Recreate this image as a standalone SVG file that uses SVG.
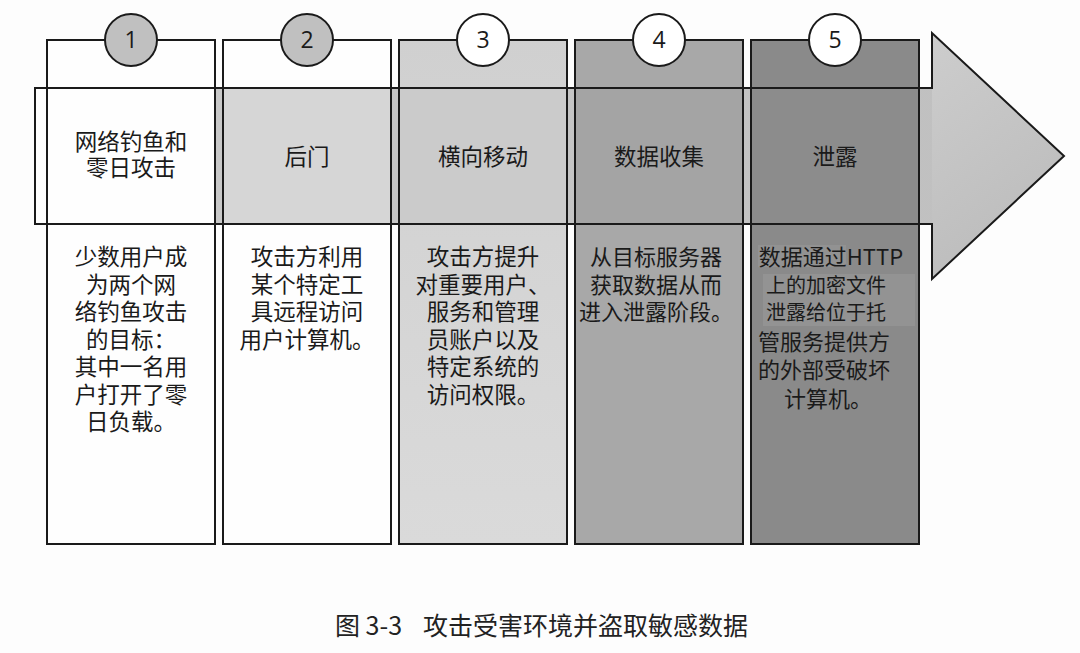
<svg xmlns="http://www.w3.org/2000/svg" width="1080" height="653" viewBox="0 0 1080 653">
<defs>
<linearGradient id="bandGrad" gradientUnits="userSpaceOnUse" x1="35" y1="0" x2="1064" y2="0">
<stop offset="0" stop-color="#ffffff"/>
<stop offset="0.012" stop-color="#fdfdfd"/>
<stop offset="0.17" stop-color="#c8c8c8"/>
<stop offset="1" stop-color="#bfbfbf"/>
</linearGradient>
<linearGradient id="headGrad" x1="0" y1="0" x2="0.4" y2="1">
<stop offset="0" stop-color="#cdcdcd"/>
<stop offset="1" stop-color="#bcbcbc"/>
</linearGradient>
<linearGradient id="c3Grad" x1="0" y1="0" x2="0" y2="1">
<stop offset="0" stop-color="#d0d0d0"/>
<stop offset="1" stop-color="#dadada"/>
</linearGradient>
<style>
.col{stroke:#1a1a1a;stroke-width:2}
.edge{fill:none;stroke:#1a1a1a;stroke-width:2}
.circ{stroke:#1a1a1a;stroke-width:2}
.num{font-family:"Open Sans","Liberation Sans",sans-serif;font-size:23px;fill:#1a1a1a;text-anchor:middle}
.t{font-family:"Noto Sans CJK SC","Noto Sans",sans-serif;fill:#1a1a1a;text-anchor:middle;font-size:22.5px}
.s{font-size:22px}
.xs{font-size:20px}
.cap{font-family:"Noto Sans CJK SC","Noto Sans",sans-serif;fill:#222;font-size:25px}
</style>
</defs>
<rect width="1080" height="653" fill="#fdfdfd"/>

<g id="flow-arrow">
<polygon points="35,88 932,88 932,33 1064,156 932,279 932,224 35,224" fill="url(#bandGrad)" stroke="none"/>
<polygon points="932,88 932,33 1064,156 932,279 932,224" fill="url(#headGrad)" stroke="none"/>
<polygon class="edge" points="35,88 932,88 932,33 1064,156 932,279 932,224 35,224"/>
</g>

<g id="step1">
<rect class="col" x="47" y="40" width="168" height="504" fill="#fefefe"/>
<rect x="48" y="89" width="166" height="134" fill="#fefefe"/>
<line class="edge" x1="47" y1="88" x2="215" y2="88"/>
<line class="edge" x1="47" y1="224" x2="215" y2="224"/>
<circle class="circ" cx="131" cy="40" r="26" fill="#c0c0c0"/>
<text class="num" x="131" y="48">1</text>
<text class="t" x="131" y="150">网络钓鱼和</text>
<text class="t" x="131" y="176">零日攻击</text>
<text class="t" x="131" y="265">少数用户成</text>
<text class="t" x="131" y="292.5">为两个网</text>
<text class="t" x="131" y="320">络钓鱼攻击</text>
<text class="t" x="131" y="347.5">的目标：</text>
<text class="t" x="131" y="375">其中一名用</text>
<text class="t" x="131" y="402.5">户打开了零</text>
<text class="t" x="131" y="430">日负载。</text>
</g>

<g id="step2">
<rect class="col" x="223" y="40" width="168" height="504" fill="#fefefe"/>
<rect x="224" y="89" width="166" height="134" fill="#d6d6d6"/>
<line class="edge" x1="223" y1="88" x2="391" y2="88"/>
<line class="edge" x1="223" y1="224" x2="391" y2="224"/>
<circle class="circ" cx="307" cy="40" r="26" fill="#c0c0c0"/>
<text class="num" x="307" y="48">2</text>
<text class="t" x="307" y="165">后门</text>
<text class="t" x="307" y="265">攻击方利用</text>
<text class="t" x="307" y="292.5">某个特定工</text>
<text class="t" x="307" y="320">具远程访问</text>
<text class="t" x="307" y="347.5">用户计算机。</text>
</g>

<g id="step3">
<rect class="col" x="399" y="40" width="168" height="504" fill="url(#c3Grad)"/>
<rect x="400" y="89" width="166" height="134" fill="#cbcbcb"/>
<line class="edge" x1="399" y1="88" x2="567" y2="88"/>
<line class="edge" x1="399" y1="224" x2="567" y2="224"/>
<circle class="circ" cx="483" cy="40" r="26" fill="#ffffff"/>
<text class="num" x="483" y="48">3</text>
<text class="t" x="483" y="165">横向移动</text>
<text class="t" x="483" y="265">攻击方提升</text>
<text class="t" x="483" y="292.5">对重要用户、</text>
<text class="t" x="483" y="320">服务和管理</text>
<text class="t" x="483" y="347.5">员账户以及</text>
<text class="t" x="483" y="375">特定系统的</text>
<text class="t" x="483" y="402.5">访问权限。</text>
</g>

<g id="step4">
<rect class="col" x="575" y="40" width="168" height="504" fill="#a8a8a8"/>
<rect x="576" y="89" width="166" height="134" fill="#a4a4a4"/>
<line class="edge" x1="575" y1="88" x2="743" y2="88"/>
<line class="edge" x1="575" y1="224" x2="743" y2="224"/>
<circle class="circ" cx="659" cy="40" r="26" fill="#ffffff"/>
<text class="num" x="659" y="48">4</text>
<text class="t" x="659" y="165">数据收集</text>
<text class="t s" x="656" y="265">从目标服务器</text>
<text class="t s" x="656" y="292.5">获取数据从而</text>
<text class="t s" x="656" y="320">进入泄露阶段。</text>
</g>

<g id="step5">
<rect class="col" x="751" y="40" width="168" height="504" fill="#8a8a8a"/>
<rect x="752" y="89" width="166" height="134" fill="#8c8c8c"/>
<line class="edge" x1="751" y1="88" x2="932" y2="88"/>
<line class="edge" x1="751" y1="224" x2="932" y2="224"/>
<rect x="758" y="245" width="88" height="22" fill="#929292"/>
<rect x="763" y="274" width="152" height="52" fill="#939393"/>
<circle class="circ" cx="835" cy="40" r="26" fill="#ffffff"/>
<text class="num" x="835" y="48">5</text>
<text class="t" x="835" y="165">泄露</text>
<text class="t s" x="831" y="265">数据通过HTTP</text>
<text class="t xs" x="826" y="293">上的加密文件</text>
<text class="t xs" x="826" y="320">泄露给位于托</text>
<text class="t s" x="824" y="350">管服务提供方</text>
<text class="t s" x="824" y="378">的外部受破坏</text>
<text class="t s" x="828" y="407">计算机。</text>
</g>

<g id="caption">
<text class="cap" y="635"><tspan x="335">图 3-3</tspan><tspan x="423">攻击受害环境并盗取敏感数据</tspan></text>
</g>
</svg>
